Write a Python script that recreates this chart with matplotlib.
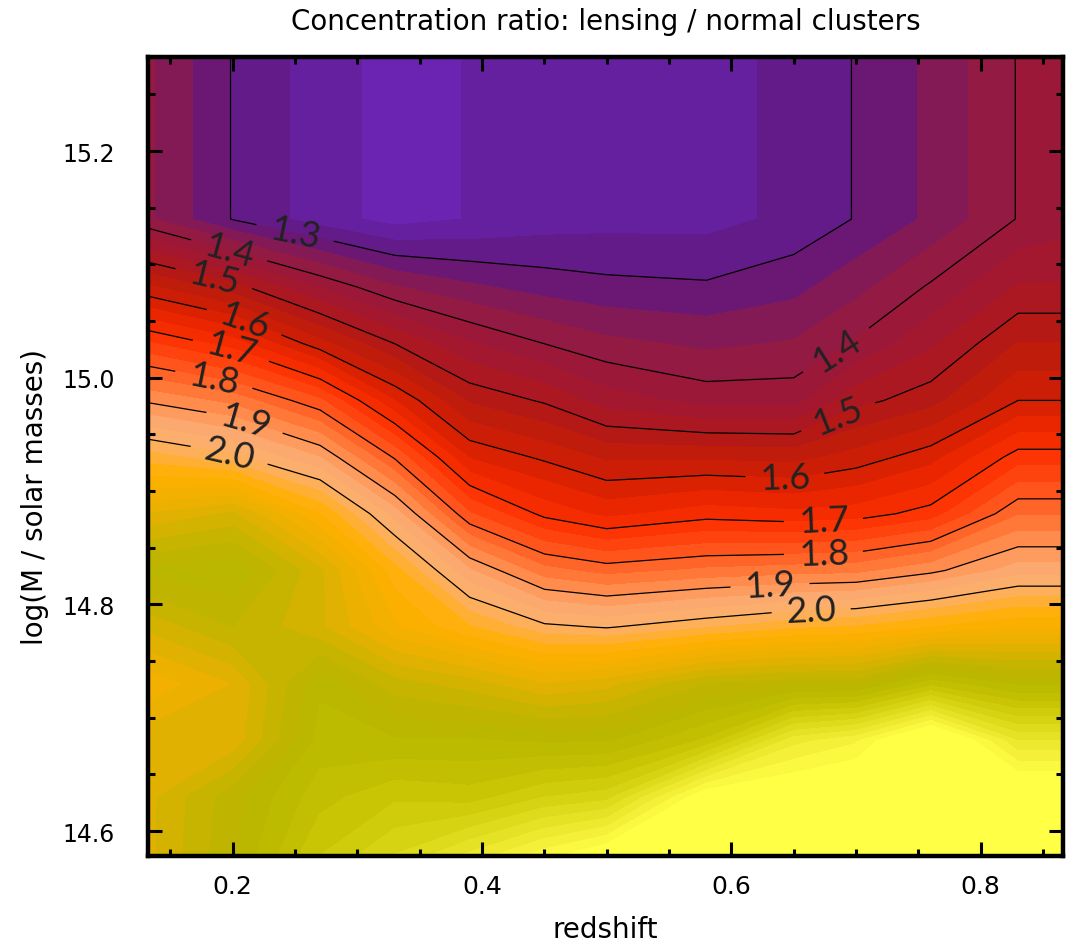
import numpy as np
import matplotlib
matplotlib.use('Agg')
import matplotlib.pyplot as plt
from matplotlib.colors import LinearSegmentedColormap, Normalize
from matplotlib.ticker import MultipleLocator

# grid nodes (redshift bins, log mass bins)
redshift = [0.13, 0.20, 0.27, 0.33, 0.39, 0.45, 0.50, 0.58, 0.65, 0.70, 0.76, 0.83, 0.87]
log_mass = [14.575, 14.63, 14.68, 14.73, 14.78, 14.83, 14.88, 14.93, 14.98, 15.03, 15.08, 15.14, 15.29]

# concentration ratio lensing / normal, one row per mass node (low mass first)
ratio = [
    [2.22, 2.33, 2.47, 2.54, 2.62, 2.70, 2.76, 2.82, 2.82, 2.82, 2.84, 2.82, 2.82],
    [2.22, 2.32, 2.42, 2.46, 2.45, 2.50, 2.52, 2.74, 2.76, 2.78, 2.82, 2.78, 2.78],
    [2.22, 2.21, 2.38, 2.37, 2.37, 2.36, 2.36, 2.44, 2.62, 2.66, 2.80, 2.60, 2.60],
    [2.14, 2.20, 2.36, 2.28, 2.25, 2.20, 2.22, 2.30, 2.32, 2.32, 2.42, 2.36, 2.36],
    [2.24, 2.30, 2.24, 2.14, 2.07, 2.01, 1.997, 2.03, 2.06, 2.07, 2.10, 2.13, 2.13],
    [2.34, 2.36, 2.24, 2.08, 1.937, 1.845, 1.82, 1.84, 1.85, 1.855, 1.89, 1.95, 1.95],
    [2.20, 2.24, 2.10, 1.95, 1.77, 1.69, 1.657, 1.685, 1.675, 1.683, 1.715, 1.83, 1.83],
    [2.05, 2.01, 1.933, 1.795, 1.63, 1.593, 1.56, 1.56, 1.555, 1.58, 1.62, 1.716, 1.716],
    [1.895, 1.855, 1.773, 1.634, 1.528, 1.495, 1.45, 1.42, 1.42, 1.488, 1.52, 1.60, 1.60],
    [1.74, 1.685, 1.58, 1.50, 1.437, 1.40, 1.376, 1.36, 1.37, 1.405, 1.46, 1.535, 1.535],
    [1.575, 1.515, 1.43, 1.37, 1.34, 1.32, 1.31, 1.305, 1.323, 1.356, 1.405, 1.47, 1.47],
    [1.375, 1.298, 1.25, 1.22, 1.235, 1.25, 1.255, 1.255, 1.275, 1.302, 1.34, 1.402, 1.42],
    [1.375, 1.298, 1.25, 1.22, 1.235, 1.25, 1.255, 1.255, 1.275, 1.302, 1.34, 1.402, 1.42],
]

line_levels = [1.3, 1.4, 1.5, 1.6, 1.7, 1.8, 1.9, 2.0]

# where the labels sit along each line (left group, right group)
label_spots = {
    1.3: [(0.250, 15.128)],
    1.4: [(0.198, 15.116), (0.686, 15.021)],
    1.5: [(0.186, 15.093), (0.687, 14.962)],
    1.6: [(0.210, 15.052), (0.643, 14.913)],
    1.7: [(0.199, 15.026), (0.674, 14.869)],
    1.8: [(0.187, 15.011), (0.674, 14.840)],
    1.9: [(0.211, 14.966), (0.631, 14.817)],
    2.0: [(0.198, 14.937), (0.664, 14.794)],
}

# colour table (value, colour)
cmap_points = [
    (1.20, '#6E24B8'), (1.25, '#64209E'), (1.285, '#621A84'), (1.317, '#6C1872'),
    (1.35, '#861A52'), (1.383, '#941A40'), (1.417, '#9C1838'), (1.46, '#A6182A'),
    (1.50, '#B0181A'), (1.55, '#C01C0A'), (1.60, '#D42004'), (1.65, '#EA2600'),
    (1.70, '#FC3000'), (1.75, '#FF4410'), (1.80, '#FF5E22'), (1.85, '#FF7A3A'),
    (1.90, '#FF9658'), (1.95, '#FCAA72'), (2.00, '#FCB068'), (2.05, '#FFB030'),
    (2.10, '#FFB000'), (2.17, '#F0B000'), (2.22, '#E0B100'), (2.28, '#C8B400'),
    (2.34, '#BAB600'), (2.40, '#BEBC00'), (2.46, '#CAC606'), (2.53, '#D8D614'),
    (2.60, '#E8E428'), (2.67, '#F8F43E'), (2.72, '#FFFF46'), (2.90, '#FFFF46'),
]
vmin, vmax = 1.2, 2.9
cmap = LinearSegmentedColormap.from_list(
    'lens', [((v - vmin) / (vmax - vmin), c) for v, c in cmap_points])

X, Y = np.meshgrid(redshift, log_mass)
Z = np.array(ratio)

fig = plt.figure(figsize=(10.75, 9.45), dpi=100)
ax = fig.add_axes([0.1377, 0.0931, 0.8511, 0.8455])

fill_levels = np.linspace(vmin, vmax, 52)
ax.contourf(X, Y, Z, levels=fill_levels, cmap=cmap, norm=Normalize(vmin, vmax))

with plt.rc_context({'font.family': ['Lato', 'DejaVu Sans']}):
    for lev in line_levels:
        cs = ax.contour(X, Y, Z, levels=[lev], colors='black', linewidths=0.9)
        ax.clabel(cs, fmt='%.1f', manual=label_spots[lev], inline=True,
                  inline_spacing=14, fontsize=26, colors='#222222')

ax.set_xlim(0.132, 0.866)
ax.set_ylim(14.578, 15.283)

ax.xaxis.set_major_locator(MultipleLocator(0.2))
ax.xaxis.set_minor_locator(MultipleLocator(0.05))
ax.yaxis.set_major_locator(MultipleLocator(0.2))
ax.yaxis.set_minor_locator(MultipleLocator(0.05))
ax.xaxis.set_major_formatter(plt.FuncFormatter(lambda v, p: f'{v:.1f}'))
ax.yaxis.set_major_formatter(plt.FuncFormatter(lambda v, p: f'{v:.1f}'))

ax.tick_params(which='both', direction='in', top=True, right=True, width=2.2, color='black')
ax.tick_params(which='major', length=10)
ax.tick_params(which='minor', length=5)
ax.tick_params(axis='x', which='major', pad=13, labelsize=18)
ax.tick_params(axis='y', which='major', pad=24, labelsize=17)
for sp in ax.spines.values():
    sp.set_linewidth(3.2)

ax.set_xlabel('redshift', fontsize=20)
ax.xaxis.set_label_coords(0.5, -0.074)
ax.set_ylabel('log(M / solar masses)', fontsize=20)
ax.yaxis.set_label_coords(-0.108, 0.45)

fig.text(0.5635, 0.977, 'Concentration ratio: lensing / normal clusters',
         ha='center', va='center', fontsize=20)

fig.savefig('out.png', dpi=100)
